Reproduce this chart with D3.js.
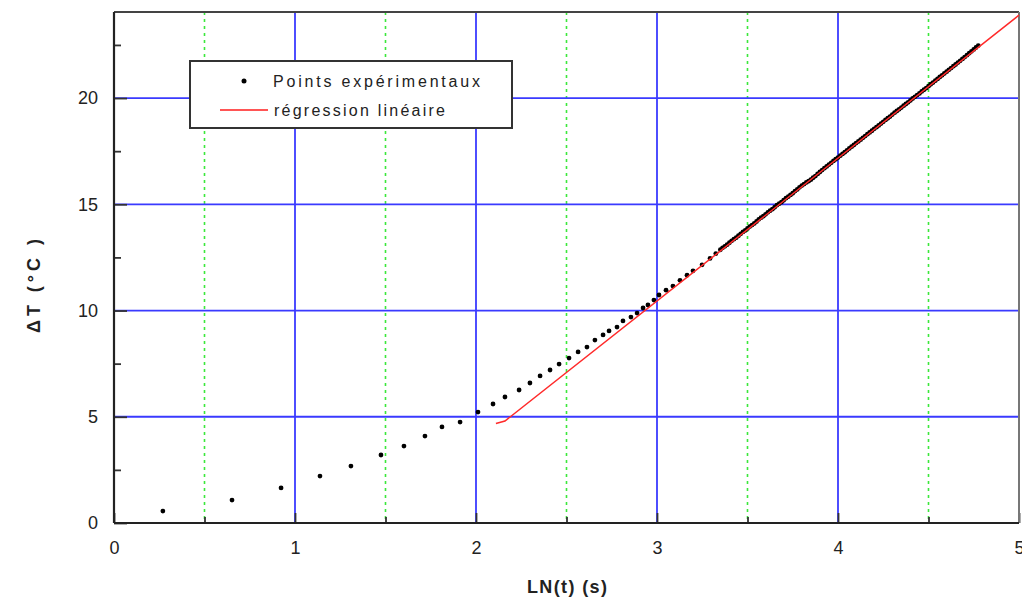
<!DOCTYPE html>
<html>
<head>
<meta charset="utf-8">
<script src="https://cdn.jsdelivr.net/npm/d3@7"></script>
<style>
  body { margin: 0; background: #fff; }
  text { font-family: "Liberation Sans", Arial, sans-serif; }
</style>
</head>
<body>
<div id="chart"></div>
<script>
// measured points, LN(t) vs delta T
var lnT = [0.27, 0.652, 0.923, 1.138, 1.309, 1.475, 1.602, 1.718, 1.812, 1.912,
  2.011, 2.094, 2.16, 2.238, 2.298, 2.354, 2.409, 2.459, 2.514, 2.564,
  2.613, 2.657, 2.702, 2.735, 2.779, 2.812, 2.856, 2.89, 2.923, 2.95,
  2.983, 3.011, 3.05, 3.088, 3.127, 3.166, 3.199, 3.249, 3.293, 3.325,
  3.35, 3.3625, 3.375, 3.3875, 3.40, 3.4125, 3.425, 3.4375, 3.45, 3.4625,
  3.475, 3.4875, 3.50, 3.5125, 3.525, 3.5375, 3.55, 3.5625, 3.575, 3.5875,
  3.60, 3.6125, 3.625, 3.6375, 3.65, 3.6625, 3.675, 3.6875, 3.70, 3.7125,
  3.725, 3.7375, 3.75, 3.7625, 3.775, 3.7875, 3.80, 3.8125, 3.825, 3.8375,
  3.85, 3.8625, 3.875, 3.8875, 3.90, 3.9125, 3.925, 3.9375, 3.95, 3.9625,
  3.975, 3.9875, 4.00, 4.0125, 4.025, 4.0375, 4.05, 4.0625, 4.075, 4.0875,
  4.10, 4.1125, 4.125, 4.1375, 4.15, 4.1625, 4.175, 4.1875, 4.20, 4.2125,
  4.225, 4.2375, 4.25, 4.2625, 4.275, 4.2875, 4.30, 4.3125, 4.325, 4.3375,
  4.35, 4.3625, 4.375, 4.3875, 4.40, 4.4125, 4.425, 4.4375, 4.45, 4.4625,
  4.475, 4.4875, 4.50, 4.5125, 4.525, 4.5375, 4.55, 4.5625, 4.575, 4.5875,
  4.60, 4.6125, 4.625, 4.6375, 4.65, 4.6625, 4.675, 4.6875, 4.70, 4.7125,
  4.725, 4.7375, 4.75, 4.7625, 4.775];
var deltaT = [0.56, 1.08, 1.65, 2.21, 2.68, 3.2, 3.62, 4.09, 4.52, 4.75,
  5.22, 5.6, 5.93, 6.26, 6.59, 6.92, 7.2, 7.48, 7.76, 8.05,
  8.28, 8.61, 8.85, 9.04, 9.22, 9.51, 9.69, 9.88, 10.12, 10.26,
  10.49, 10.73, 10.96, 11.15, 11.42, 11.66, 11.87, 12.15, 12.45, 12.68,
  12.86, 12.95, 13.02, 13.10, 13.19, 13.28, 13.36, 13.43, 13.52, 13.61,
  13.70, 13.77, 13.86, 13.95, 14.02, 14.10, 14.19, 14.29, 14.37, 14.44,
  14.53, 14.62, 14.70, 14.77, 14.86, 14.96, 15.03, 15.10, 15.19, 15.29,
  15.36, 15.44, 15.52, 15.62, 15.70, 15.80, 15.88, 15.95, 16.03, 16.09,
  16.16, 16.25, 16.33, 16.43, 16.52, 16.61, 16.70, 16.78, 16.87, 16.95,
  17.04, 17.12, 17.20, 17.29, 17.37, 17.45, 17.54, 17.63, 17.71, 17.79,
  17.88, 17.96, 18.04, 18.13, 18.21, 18.30, 18.38, 18.46, 18.55, 18.63,
  18.71, 18.80, 18.88, 18.97, 19.05, 19.13, 19.22, 19.31, 19.39, 19.47,
  19.55, 19.64, 19.72, 19.80, 19.89, 19.98, 20.06, 20.14, 20.22, 20.31,
  20.39, 20.47, 20.56, 20.65, 20.73, 20.82, 20.90, 20.99, 21.07, 21.16,
  21.24, 21.33, 21.41, 21.50, 21.58, 21.67, 21.75, 21.84, 21.93, 22.02,
  22.11, 22.20, 22.29, 22.38, 22.47];

// linear regression line (as drawn)
var regX = [2.11, 2.16, 5.0];
var regY = [4.68, 4.80, 23.9];

var xTicks = [0, 1, 2, 3, 4, 5];
var xMinor = [0.5, 1.5, 2.5, 3.5, 4.5];
var yTicks = [0, 5, 10, 15, 20];
var yMinor = [2.5, 7.5, 12.5, 17.5, 22.5];

var legendLabels = ["Points expérimentaux", "régression linéaire"];

var svgWidth = 1022;
var svgHeight = 601;

var margin = { top: 12, right: 3, bottom: 78, left: 114 };
var chartWidth = svgWidth - margin.left - margin.right;
var chartHeight = svgHeight - margin.top - margin.bottom;

var svg = d3.select("#chart")
  .append("svg")
  .attr("width", svgWidth)
  .attr("height", svgHeight);

var chartGroup = svg.append("g")
  .attr("transform", `translate(${margin.left}, ${margin.top})`);

var xScale = d3.scaleLinear().domain([0, 5]).range([0, chartWidth]);
var yScale = d3.scaleLinear().domain([0, 24.05]).range([chartHeight, 0]);

// green dotted half-unit grid
chartGroup.append("g")
  .selectAll("line")
  .data(xMinor)
  .enter()
  .append("line")
  .attr("x1", d => xScale(d))
  .attr("x2", d => xScale(d))
  .attr("y1", 0)
  .attr("y2", chartHeight)
  .style("stroke", "#3be83b")
  .style("stroke-width", 1.6)
  .style("stroke-dasharray", "3,4");

// blue grid
chartGroup.append("g")
  .selectAll("line")
  .data(xTicks.slice(1, 5))
  .enter()
  .append("line")
  .attr("x1", d => xScale(d))
  .attr("x2", d => xScale(d))
  .attr("y1", 0)
  .attr("y2", chartHeight)
  .style("stroke", "#3a3aff")
  .style("stroke-width", 1.8);

chartGroup.append("g")
  .selectAll("line")
  .data(yTicks.slice(1))
  .enter()
  .append("line")
  .attr("x1", 0)
  .attr("x2", chartWidth)
  .attr("y1", d => yScale(d))
  .attr("y2", d => yScale(d))
  .style("stroke", "#3a3aff")
  .style("stroke-width", 1.8);

// inner tick marks
function tickStyle(g) {
  g.select(".domain").remove();
  g.selectAll(".tick text").remove();
  g.selectAll(".tick line").style("stroke", "#333").style("stroke-width", 1.8);
}

chartGroup.append("g")
  .call(d3.axisRight(yScale).tickValues(yTicks).tickSize(13))
  .call(tickStyle);
chartGroup.append("g")
  .call(d3.axisRight(yScale).tickValues(yMinor).tickSize(7))
  .call(tickStyle);
chartGroup.append("g")
  .attr("transform", `translate(0, ${chartHeight})`)
  .call(d3.axisTop(xScale).tickValues(xTicks).tickSize(10))
  .call(tickStyle);
chartGroup.append("g")
  .attr("transform", `translate(0, ${chartHeight})`)
  .call(d3.axisTop(xScale).tickValues(xMinor).tickSize(6))
  .call(tickStyle);

// tick labels
var xAxis = chartGroup.append("g")
  .attr("transform", `translate(0, ${chartHeight})`)
  .call(d3.axisBottom(xScale).tickValues(xTicks).tickSize(0).tickPadding(18).tickFormat(d3.format("d")));
var yAxis = chartGroup.append("g")
  .call(d3.axisLeft(yScale).tickValues(yTicks).tickSize(0).tickPadding(16).tickFormat(d3.format("d")));

[xAxis, yAxis].forEach(function(ax) {
  ax.select(".domain").remove();
  ax.selectAll("text")
    .style("font-family", "Liberation Sans, Arial, sans-serif")
    .style("font-size", "18px")
    .style("fill", "#222");
});

// frame
chartGroup.append("line")
  .attr("x1", 0).attr("x2", chartWidth).attr("y1", 0).attr("y2", 0)
  .style("stroke", "#444").style("stroke-width", 2);
chartGroup.append("line")
  .attr("x1", chartWidth).attr("x2", chartWidth).attr("y1", 0).attr("y2", chartHeight)
  .style("stroke", "#777").style("stroke-width", 2);
chartGroup.append("line")
  .attr("x1", 0).attr("x2", 0).attr("y1", 0).attr("y2", chartHeight)
  .style("stroke", "#222").style("stroke-width", 2.2);
chartGroup.append("line")
  .attr("x1", 0).attr("x2", chartWidth).attr("y1", chartHeight).attr("y2", chartHeight)
  .style("stroke", "#222").style("stroke-width", 2.2);

// regression line
var regData = regX.map((d, i) => [d, regY[i]]);
var line = d3.line()
  .x(d => xScale(d[0]))
  .y(d => yScale(d[1]));

// experimental points
var pointData = lnT.map((d, i) => ({ x: d, y: deltaT[i] }));

chartGroup.append("g")
  .selectAll("circle")
  .data(pointData)
  .enter()
  .append("circle")
  .attr("cx", d => xScale(d.x))
  .attr("cy", d => yScale(d.y))
  .attr("r", 2.4)
  .style("fill", "#000");

chartGroup.append("path")
  .datum(regData)
  .attr("d", line)
  .style("fill", "none")
  .style("stroke", "#ff2a2a")
  .style("stroke-width", 1.5);

// axis titles
svg.append("text")
  .attr("x", 527)
  .attr("y", 593)
  .attr("textLength", 80)
  .attr("lengthAdjust", "spacing")
  .style("font-size", "18px")
  .style("font-weight", "bold")
  .style("fill", "#222")
  .text("LN(t) (s)");

svg.append("text")
  .attr("transform", "translate(40, 333) rotate(-90)")
  .attr("textLength", 94)
  .attr("lengthAdjust", "spacing")
  .style("font-size", "18px")
  .style("font-weight", "bold")
  .style("fill", "#222")
  .text("\u0394T (°C )");

// legend
var legend = svg.append("g");
legend.append("rect")
  .attr("x", 190)
  .attr("y", 61)
  .attr("width", 322)
  .attr("height", 67)
  .style("fill", "#fff")
  .style("stroke", "#333")
  .style("stroke-width", 2);

legend.append("circle")
  .attr("cx", 244)
  .attr("cy", 81)
  .attr("r", 2.5)
  .style("fill", "#000");

legend.append("line")
  .attr("x1", 220).attr("x2", 268)
  .attr("y1", 110).attr("y2", 110)
  .style("stroke", "#ff5555")
  .style("stroke-width", 2);

legend.selectAll(".legtext")
  .data(legendLabels)
  .enter()
  .append("text")
  .attr("class", "legtext")
  .attr("x", (d, i) => i === 0 ? 273 : 274)
  .attr("y", (d, i) => i === 0 ? 87 : 116)
  .attr("textLength", (d, i) => i === 0 ? 207 : 171)
  .attr("lengthAdjust", "spacing")
  .style("font-size", "16px")
  .style("fill", "#222")
  .text(d => d);
</script>
</body>
</html>
